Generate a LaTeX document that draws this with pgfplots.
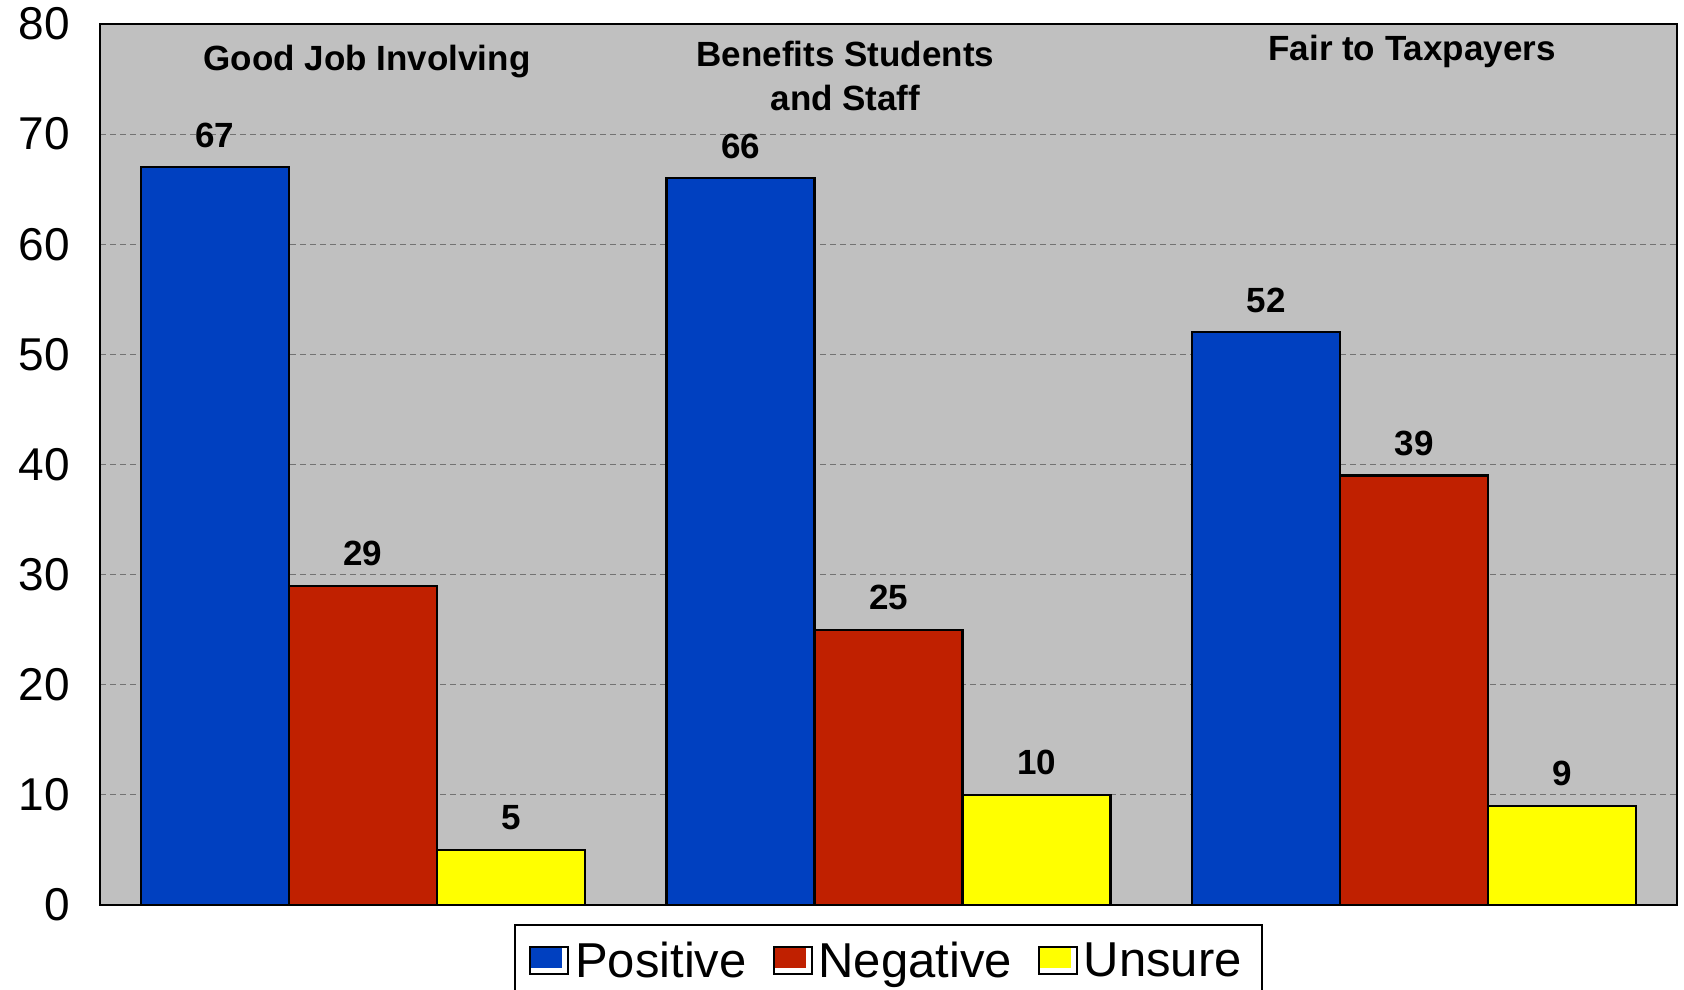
\documentclass[border=0pt]{standalone}
\usepackage{pgfplots}
\pgfplotsset{compat=1.18}
\usepackage{fontspec}
\setmainfont{Liberation Sans}
\definecolor{bgc}{RGB}{192,192,192}
\definecolor{cpos}{RGB}{0,64,192}
\definecolor{cneg}{RGB}{192,32,0}
\definecolor{cuns}{RGB}{255,255,0}
\begin{document}
\begin{tikzpicture}
\begin{axis}[
  name=ax,
  width=788.5pt, height=440.5pt, scale only axis,
  xmin=-0.5, xmax=2.5, ymin=0, ymax=80,
  ytick={0,10,...,80},
  xtick=\empty,
  axis background/.style={fill=bgc},
  axis line style={line width=1.1pt},
  ymajorgrids,
  grid style={densely dashed, black!55, line width=0.5pt},
  major tick length=0pt,
  tick label style={font=\fontsize{23}{26}\selectfont},
  yticklabel style={xshift=-11.5pt},
  /pgf/number format/assume math mode=true,
  ybar=0pt,
  bar width=0.2816,
  clip=false,
  nodes near coords,
  every node near coord/.append style={font=\bfseries\fontsize{17.5}{20}\selectfont, yshift=6pt, text=black},
  legend style={at={(0.5,-0.0216)}, anchor=north, legend columns=3,
    draw=black, line width=1pt, fill=white,
    font=\fontsize{24.5}{28}\selectfont,
    inner xsep=7pt, inner ysep=6.5pt,
    nodes={inner sep=2pt, inner xsep=3pt},
    /tikz/every even column/.append style={column sep=10pt}},
  legend image code/.code={
    \path[draw=black, fill=white, line width=0.9pt] (0pt,-6.5pt) rectangle (19pt,7pt);
    \path[#1, draw=none] (0.5pt,-3.5pt) rectangle (16pt,6.5pt);
  },
]
\addplot[fill=cpos, draw=black, line width=1.1pt] coordinates {(0,67) (1,66) (2,52)};
\addplot[fill=cneg, draw=black, line width=1.1pt] coordinates {(0,29) (1,25) (2,39)};
\addplot[fill=cuns, draw=black, line width=1.1pt] coordinates {(0,5) (1,10) (2,9)};
\legend{Positive,Negative,Unsure}
\node[font=\bfseries\fontsize{17.5}{22}\selectfont, align=center] at (axis cs:0.008,76.6) {Good Job Involving};
\node[font=\bfseries\fontsize{17.5}{22}\selectfont, align=center] at (axis cs:0.918,75.3) {Benefits Students\\and Staff};
\node[font=\bfseries\fontsize{17.5}{22}\selectfont, align=center] at (axis cs:1.996,77.5) {Fair to Taxpayers};
\end{axis}
\pgfresetboundingbox
\path[use as bounding box] ([xshift=-50pt,yshift=-42.5pt]ax.south west) rectangle ([xshift=3.5pt,yshift=12pt]ax.north east);
\end{tikzpicture}
\end{document}
